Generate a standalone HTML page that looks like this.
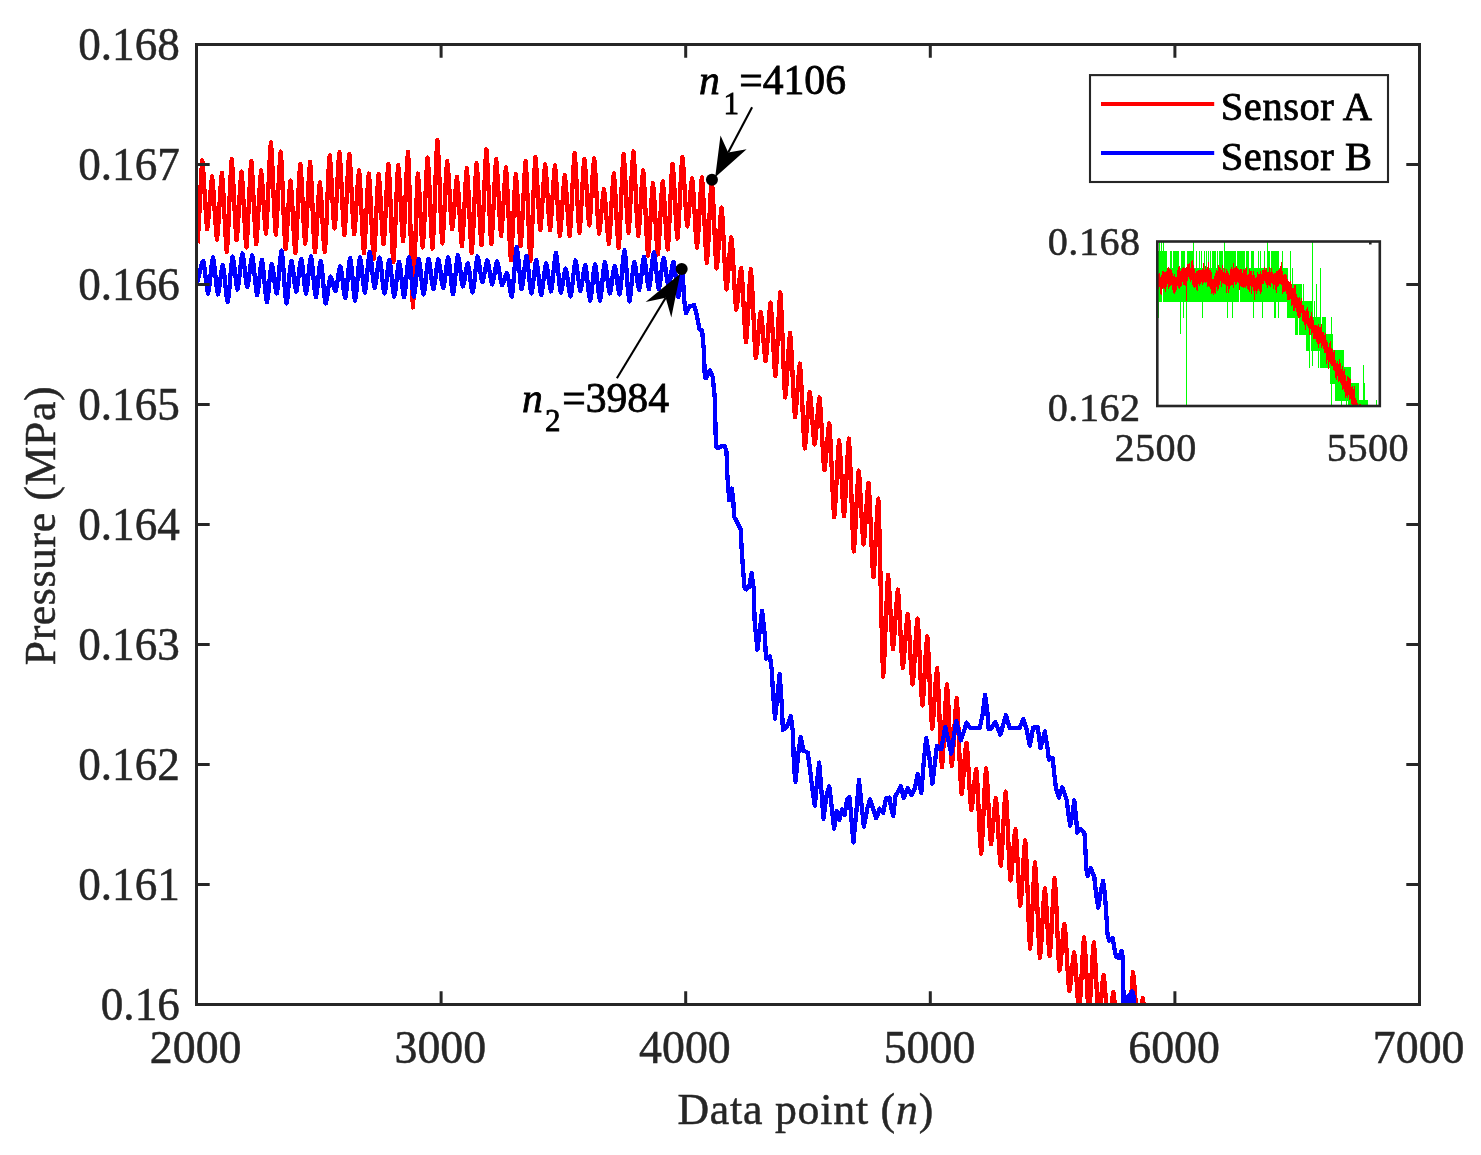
<!DOCTYPE html><html><head><meta charset="utf-8"><title>Pressure vs data point</title>
<style>html,body{margin:0;padding:0;background:#fff}svg{display:block}text{font-family:"Liberation Serif","Times New Roman",serif}</style></head><body>
<svg width="1481" height="1155" viewBox="0 0 1481 1155">
<rect width="1481" height="1155" fill="#fff"/>
<defs><clipPath id="cm"><rect x="196.5" y="44.5" width="1223.0" height="960.0"/></clipPath>
<clipPath id="ci"><rect x="1157.3" y="241.5" width="222.5" height="164.5"/></clipPath></defs>
<g clip-path="url(#cm)" fill="none" stroke-width="4.3" stroke-linejoin="round" stroke-linecap="butt" shape-rendering="crispEdges">
<path stroke="#ff0000" d="M197.4 243.4 L198.2 234.2 L199.0 219.6 L199.9 201.9 L200.7 184.2 L201.5 169.6 L202.3 160.4 L203.1 168.1 L203.9 180.2 L204.7 194.9 L205.6 209.6 L206.4 221.7 L207.2 229.4 L208.0 223.5 L208.8 214.2 L209.6 203.0 L210.5 191.7 L211.3 182.4 L212.1 176.5 L212.9 183.6 L213.7 194.6 L214.5 208.0 L215.4 221.4 L216.2 232.5 L217.0 239.6 L217.8 232.1 L218.6 220.3 L219.4 206.1 L220.3 191.9 L221.1 180.1 L221.9 172.6 L222.7 181.5 L223.5 195.5 L224.3 212.4 L225.2 229.3 L226.0 243.3 L226.8 252.2 L227.6 241.8 L228.4 225.5 L229.2 205.8 L230.1 186.0 L230.9 169.7 L231.7 159.3 L232.5 168.4 L233.3 182.6 L234.1 199.8 L235.0 217.0 L235.8 231.2 L236.6 240.3 L237.4 232.6 L238.2 220.5 L239.0 205.9 L239.9 191.3 L240.7 179.3 L241.5 171.6 L242.3 180.1 L243.1 193.4 L243.9 209.5 L244.8 225.7 L245.6 239.0 L246.4 247.5 L247.2 237.8 L248.0 222.5 L248.8 204.1 L249.7 185.7 L250.5 170.4 L251.3 160.7 L252.1 170.1 L252.9 184.7 L253.7 202.5 L254.6 220.3 L255.4 235.0 L256.2 244.3 L257.0 236.1 L257.8 223.1 L258.6 207.3 L259.4 191.6 L260.3 178.6 L261.1 170.4 L261.9 177.5 L262.7 188.6 L263.5 202.1 L264.3 215.6 L265.2 226.7 L266.0 233.8 L266.8 223.6 L267.6 207.5 L268.4 188.0 L269.2 168.6 L270.1 152.5 L270.9 142.3 L271.7 152.6 L272.5 168.8 L273.3 188.5 L274.1 208.1 L275.0 224.3 L275.8 234.7 L276.6 225.4 L277.4 210.8 L278.2 193.1 L279.0 175.5 L279.9 160.9 L280.7 151.6 L281.5 162.5 L282.3 179.7 L283.1 200.4 L283.9 221.2 L284.8 238.3 L285.6 249.2 L286.4 241.5 L287.2 229.4 L288.0 214.8 L288.8 200.2 L289.7 188.1 L290.5 180.4 L291.3 188.5 L292.1 201.3 L292.9 216.7 L293.7 232.2 L294.6 245.0 L295.4 253.1 L296.2 243.1 L297.0 227.4 L297.8 208.4 L298.6 189.4 L299.5 173.7 L300.3 163.7 L301.1 172.6 L301.9 186.7 L302.7 203.7 L303.5 220.8 L304.4 234.8 L305.2 243.8 L306.0 234.6 L306.8 220.2 L307.6 202.7 L308.4 185.2 L309.3 170.8 L310.1 161.6 L310.9 171.7 L311.7 187.6 L312.5 206.9 L313.3 226.2 L314.1 242.1 L315.0 252.2 L315.8 244.4 L316.6 232.1 L317.4 217.3 L318.2 202.4 L319.0 190.1 L319.9 182.3 L320.7 190.1 L321.5 202.4 L322.3 217.3 L323.1 232.1 L323.9 244.4 L324.8 252.2 L325.6 241.4 L326.4 224.4 L327.2 203.8 L328.0 183.3 L328.8 166.3 L329.7 155.4 L330.5 163.6 L331.3 176.4 L332.1 192.0 L332.9 207.5 L333.7 220.3 L334.6 228.5 L335.4 220.0 L336.2 206.6 L337.0 190.4 L337.8 174.2 L338.6 160.8 L339.5 152.3 L340.3 161.5 L341.1 176.1 L341.9 193.6 L342.7 211.2 L343.5 225.8 L344.4 235.0 L345.2 225.9 L346.0 211.6 L346.8 194.4 L347.6 177.1 L348.4 162.8 L349.3 153.7 L350.1 162.7 L350.9 176.9 L351.7 194.0 L352.5 211.1 L353.3 225.3 L354.2 234.3 L355.0 227.2 L355.8 215.9 L356.6 202.3 L357.4 188.7 L358.2 177.5 L359.1 170.4 L359.9 179.6 L360.7 194.1 L361.5 211.7 L362.3 229.3 L363.1 243.8 L364.0 253.1 L364.8 244.2 L365.6 230.2 L366.4 213.3 L367.2 196.4 L368.0 182.4 L368.8 173.5 L369.7 183.1 L370.5 198.2 L371.3 216.4 L372.1 234.6 L372.9 249.7 L373.7 259.2 L374.6 249.7 L375.4 234.8 L376.2 216.7 L377.0 198.7 L377.8 183.7 L378.6 174.2 L379.5 182.1 L380.3 194.4 L381.1 209.3 L381.9 224.2 L382.7 236.5 L383.5 244.3 L384.4 235.4 L385.2 221.3 L386.0 204.3 L386.8 187.2 L387.6 173.2 L388.4 164.2 L389.3 175.2 L390.1 192.4 L390.9 213.2 L391.7 234.1 L392.5 251.3 L393.3 262.2 L394.2 251.4 L395.0 234.3 L395.8 213.7 L396.6 193.0 L397.4 176.0 L398.2 165.1 L399.1 173.6 L399.9 187.0 L400.7 203.2 L401.5 219.4 L402.3 232.8 L403.1 241.3 L404.0 231.3 L404.8 215.5 L405.6 196.5 L406.4 177.4 L407.2 161.6 L408.0 151.6 L408.9 169.0 L409.7 196.4 L410.5 229.6 L411.3 262.7 L412.1 290.1 L412.9 307.5 L413.8 292.5 L414.6 269.0 L415.4 240.5 L416.2 212.0 L417.0 188.5 L417.8 173.5 L418.7 181.8 L419.5 194.8 L420.3 210.5 L421.1 226.2 L421.9 239.2 L422.7 247.5 L423.5 237.4 L424.4 221.6 L425.2 202.5 L426.0 183.4 L426.8 167.6 L427.6 157.5 L428.4 167.7 L429.3 183.8 L430.1 203.1 L430.9 222.5 L431.7 238.5 L432.5 248.7 L433.3 236.6 L434.2 217.5 L435.0 194.4 L435.8 171.4 L436.6 152.3 L437.4 140.2 L438.2 151.7 L439.1 169.9 L439.9 191.8 L440.7 213.8 L441.5 231.9 L442.3 243.4 L443.1 234.2 L444.0 219.8 L444.8 202.3 L445.6 184.7 L446.4 170.3 L447.2 161.1 L448.0 168.7 L448.9 180.7 L449.7 195.2 L450.5 209.8 L451.3 221.8 L452.1 229.4 L452.9 223.5 L453.8 214.3 L454.6 203.2 L455.4 192.1 L456.2 182.9 L457.0 177.0 L457.8 184.8 L458.7 196.9 L459.5 211.6 L460.3 226.2 L461.1 238.4 L461.9 246.1 L462.7 237.4 L463.6 223.7 L464.4 207.1 L465.2 190.5 L466.0 176.8 L466.8 168.1 L467.6 177.6 L468.5 192.5 L469.3 210.6 L470.1 228.7 L470.9 243.6 L471.7 253.1 L472.5 243.1 L473.4 227.3 L474.2 208.2 L475.0 189.1 L475.8 173.4 L476.6 163.3 L477.4 172.5 L478.2 186.9 L479.1 204.3 L479.9 221.7 L480.7 236.0 L481.5 245.2 L482.3 234.5 L483.1 217.6 L484.0 197.2 L484.8 176.9 L485.6 160.0 L486.4 149.3 L487.2 159.9 L488.0 176.6 L488.9 196.8 L489.7 217.0 L490.5 233.7 L491.3 244.3 L492.1 234.8 L492.9 219.8 L493.8 201.6 L494.6 183.5 L495.4 168.5 L496.2 158.9 L497.0 167.6 L497.8 181.1 L498.7 197.4 L499.5 213.8 L500.3 227.3 L501.1 235.9 L501.9 228.2 L502.7 216.2 L503.6 201.6 L504.4 187.1 L505.2 175.0 L506.0 167.4 L506.8 177.7 L507.6 194.0 L508.5 213.8 L509.3 233.5 L510.1 249.8 L510.9 260.1 L511.7 250.5 L512.5 235.4 L513.4 217.2 L514.2 198.9 L515.0 183.8 L515.8 174.2 L516.6 182.3 L517.4 194.9 L518.3 210.2 L519.1 225.4 L519.9 238.0 L520.7 246.1 L521.5 236.6 L522.3 221.6 L523.2 203.6 L524.0 185.5 L524.8 170.6 L525.6 161.1 L526.4 172.2 L527.2 189.8 L528.1 211.0 L528.9 232.3 L529.7 249.8 L530.5 261.0 L531.3 249.4 L532.1 231.2 L532.9 209.1 L533.8 187.0 L534.6 168.8 L535.4 157.2 L536.2 165.4 L537.0 178.2 L537.8 193.7 L538.7 209.3 L539.5 222.1 L540.3 230.3 L541.1 222.9 L541.9 211.3 L542.7 197.2 L543.6 183.2 L544.4 171.6 L545.2 164.2 L546.0 171.6 L546.8 183.2 L547.6 197.2 L548.5 211.3 L549.3 222.9 L550.1 230.3 L550.9 223.0 L551.7 211.6 L552.5 197.9 L553.4 184.1 L554.2 172.7 L555.0 165.4 L555.8 173.3 L556.6 185.7 L557.4 200.7 L558.3 215.6 L559.1 228.0 L559.9 235.9 L560.7 229.1 L561.5 218.4 L562.3 205.5 L563.2 192.6 L564.0 181.9 L564.8 175.1 L565.6 181.9 L566.4 192.6 L567.2 205.5 L568.1 218.4 L568.9 229.1 L569.7 235.9 L570.5 226.6 L571.3 212.1 L572.1 194.5 L573.0 176.9 L573.8 162.4 L574.6 153.2 L575.4 162.1 L576.2 176.1 L577.0 193.0 L577.9 210.0 L578.7 224.0 L579.5 232.9 L580.3 224.6 L581.1 211.6 L581.9 195.9 L582.8 180.2 L583.6 167.2 L584.4 158.9 L585.2 166.4 L586.0 178.0 L586.8 192.2 L587.6 206.3 L588.5 217.9 L589.3 225.4 L590.1 217.9 L590.9 206.1 L591.7 191.9 L592.5 177.7 L593.4 165.9 L594.2 158.4 L595.0 166.9 L595.8 180.1 L596.6 196.1 L597.4 212.1 L598.3 225.4 L599.1 233.8 L599.9 228.8 L600.7 221.0 L601.5 211.5 L602.3 202.0 L603.2 194.1 L604.0 189.1 L604.8 195.3 L605.6 204.9 L606.4 216.6 L607.2 228.2 L608.1 237.8 L608.9 244.0 L609.7 236.1 L610.5 223.7 L611.3 208.7 L612.1 193.6 L613.0 181.2 L613.8 173.3 L614.6 181.7 L615.4 194.9 L616.2 210.8 L617.0 226.7 L617.9 239.8 L618.7 248.2 L619.5 237.7 L620.3 221.2 L621.1 201.2 L621.9 181.2 L622.8 164.7 L623.6 154.2 L624.4 163.0 L625.2 176.8 L626.0 193.6 L626.8 210.3 L627.7 224.1 L628.5 232.9 L629.3 223.8 L630.1 209.5 L630.9 192.2 L631.7 174.8 L632.6 160.5 L633.4 151.4 L634.2 160.8 L635.0 175.7 L635.8 193.6 L636.6 211.6 L637.5 226.4 L638.3 235.9 L639.1 228.6 L639.9 217.1 L640.7 203.1 L641.5 189.2 L642.3 177.7 L643.2 170.4 L644.0 179.9 L644.8 194.9 L645.6 213.0 L646.4 231.2 L647.2 246.2 L648.1 255.7 L648.9 247.6 L649.7 234.9 L650.5 219.5 L651.3 204.0 L652.1 191.3 L653.0 183.2 L653.8 191.2 L654.6 203.7 L655.4 218.8 L656.2 234.0 L657.0 246.5 L657.9 254.5 L658.7 246.3 L659.5 233.5 L660.3 218.0 L661.1 202.4 L661.9 189.6 L662.8 181.4 L663.6 189.0 L664.4 201.0 L665.2 215.5 L666.0 230.0 L666.8 242.0 L667.7 249.6 L668.5 240.0 L669.3 224.9 L670.1 206.6 L670.9 188.4 L671.7 173.3 L672.6 163.7 L673.4 172.1 L674.2 185.3 L675.0 201.2 L675.8 217.1 L676.6 230.3 L677.5 238.7 L678.3 229.6 L679.1 215.3 L679.9 197.9 L680.7 180.6 L681.5 166.3 L682.4 157.2 L683.2 164.9 L684.0 177.1 L684.8 191.8 L685.6 206.5 L686.4 218.7 L687.3 226.4 L688.1 221.0 L688.9 212.6 L689.7 202.3 L690.5 192.1 L691.3 183.6 L692.2 178.3 L693.0 186.0 L693.8 198.2 L694.6 212.9 L695.4 227.6 L696.2 239.7 L697.0 247.5 L697.9 239.6 L698.7 227.3 L699.5 212.4 L700.3 197.5 L701.1 185.2 L701.9 177.4 L702.8 186.9 L703.6 201.9 L704.4 220.1 L705.2 238.2 L706.0 253.2 L706.8 262.8 L707.7 253.5 L708.5 238.9 L709.3 221.2 L710.1 203.6 L710.9 189.0 L711.7 179.7 L712.6 189.6 L713.4 205.2 L714.2 224.1 L715.0 243.0 L715.8 258.6 L716.6 268.6 L717.5 261.7 L718.3 251.0 L719.1 238.1 L719.9 225.1 L720.7 214.4 L721.5 207.6 L722.4 216.8 L723.2 231.2 L724.0 248.6 L724.8 266.0 L725.6 280.4 L726.4 289.6 L727.3 283.8 L728.1 274.6 L728.9 263.5 L729.7 252.4 L730.5 243.3 L731.3 237.4 L732.2 245.5 L733.0 258.2 L733.8 273.5 L734.6 288.9 L735.4 301.6 L736.2 309.6 L737.1 305.0 L737.9 297.7 L738.7 288.9 L739.5 280.1 L740.3 272.8 L741.1 268.1 L742.0 276.4 L742.8 289.5 L743.6 305.3 L744.4 321.0 L745.2 334.1 L746.0 342.4 L746.8 334.2 L747.7 321.3 L748.5 305.8 L749.3 290.2 L750.1 277.4 L750.9 269.2 L751.7 279.2 L752.6 294.8 L753.4 313.7 L754.2 332.6 L755.0 348.2 L755.8 358.2 L756.6 353.0 L757.5 344.8 L758.3 334.9 L759.1 325.1 L759.9 316.9 L760.7 311.7 L761.5 317.2 L762.4 325.9 L763.2 336.4 L764.0 346.9 L764.8 355.6 L765.6 361.2 L766.4 354.6 L767.3 344.3 L768.1 331.9 L768.9 319.4 L769.7 309.1 L770.5 302.6 L771.3 310.8 L772.2 323.7 L773.0 339.3 L773.8 354.9 L774.6 367.9 L775.4 376.1 L776.2 366.7 L777.1 352.0 L777.9 334.2 L778.7 316.4 L779.5 301.7 L780.3 292.4 L781.1 304.1 L782.0 322.6 L782.8 344.9 L783.6 367.3 L784.4 385.7 L785.2 397.5 L786.0 390.3 L786.9 378.9 L787.7 365.2 L788.5 351.4 L789.3 340.1 L790.1 332.8 L790.9 342.3 L791.8 357.1 L792.6 375.1 L793.4 393.0 L794.2 407.9 L795.0 417.3 L795.8 411.3 L796.7 401.9 L797.5 390.4 L798.3 379.0 L799.1 369.6 L799.9 363.6 L800.7 373.1 L801.5 388.0 L802.4 406.0 L803.2 424.1 L804.0 439.0 L804.8 448.5 L805.6 442.1 L806.4 432.1 L807.3 420.1 L808.1 408.0 L808.9 398.0 L809.7 391.7 L810.5 397.6 L811.3 406.8 L812.2 418.0 L813.0 429.3 L813.8 438.5 L814.6 444.4 L815.4 439.2 L816.2 430.9 L817.1 420.9 L817.9 411.0 L818.7 402.7 L819.5 397.4 L820.3 405.6 L821.1 418.4 L822.0 433.8 L822.8 449.3 L823.6 462.1 L824.4 470.3 L825.2 465.0 L826.0 456.7 L826.9 446.8 L827.7 436.8 L828.5 428.5 L829.3 423.3 L830.1 433.8 L830.9 450.3 L831.8 470.3 L832.6 490.3 L833.4 506.8 L834.2 517.3 L835.0 508.7 L835.8 495.2 L836.7 478.8 L837.5 462.4 L838.3 448.9 L839.1 440.3 L839.9 448.8 L840.7 462.2 L841.6 478.4 L842.4 494.5 L843.2 507.9 L844.0 516.4 L844.8 507.7 L845.6 494.0 L846.5 477.5 L847.3 460.9 L848.1 447.2 L848.9 438.5 L849.7 451.2 L850.5 471.0 L851.4 495.0 L852.2 519.0 L853.0 538.9 L853.8 551.5 L854.6 542.5 L855.4 528.3 L856.2 511.0 L857.1 493.8 L857.9 479.6 L858.7 470.5 L859.5 478.8 L860.3 491.8 L861.1 507.5 L862.0 523.2 L862.8 536.2 L863.6 544.5 L864.4 537.6 L865.2 526.8 L866.0 513.7 L866.9 500.6 L867.7 489.7 L868.5 482.8 L869.3 493.4 L870.1 510.0 L870.9 530.1 L871.8 550.2 L872.6 566.8 L873.4 577.3 L874.2 568.5 L875.0 554.7 L875.8 538.0 L876.7 521.3 L877.5 507.4 L878.3 498.6 L879.1 518.5 L879.9 549.8 L880.7 587.6 L881.6 625.4 L882.4 656.7 L883.2 676.6 L884.0 665.3 L884.8 647.4 L885.6 625.8 L886.5 604.3 L887.3 586.4 L888.1 575.1 L888.9 583.4 L889.7 596.5 L890.5 612.2 L891.4 628.0 L892.2 641.1 L893.0 649.4 L893.8 642.7 L894.6 632.2 L895.4 619.4 L896.3 606.7 L897.1 596.2 L897.9 589.5 L898.7 598.2 L899.5 612.0 L900.3 628.7 L901.2 645.3 L902.0 659.1 L902.8 667.8 L903.6 661.8 L904.4 652.3 L905.2 640.8 L906.1 629.3 L906.9 619.8 L907.7 613.7 L908.5 621.6 L909.3 634.1 L910.1 649.1 L910.9 664.2 L911.8 676.6 L912.6 684.5 L913.4 677.1 L914.2 665.5 L915.0 651.5 L915.8 637.4 L916.7 625.8 L917.5 618.4 L918.3 628.2 L919.1 643.5 L919.9 662.0 L920.7 680.5 L921.6 695.8 L922.4 705.6 L923.2 697.8 L924.0 685.7 L924.8 671.0 L925.6 656.3 L926.5 644.1 L927.3 636.4 L928.1 646.7 L928.9 662.9 L929.7 682.6 L930.5 702.2 L931.4 718.4 L932.2 728.8 L933.0 722.0 L933.8 711.3 L934.6 698.4 L935.4 685.6 L936.3 674.9 L937.1 668.1 L937.9 679.2 L938.7 696.6 L939.5 717.6 L940.3 738.7 L941.2 756.0 L942.0 767.1 L942.8 757.9 L943.6 743.3 L944.4 725.7 L945.2 708.1 L946.1 693.5 L946.9 684.3 L947.7 693.4 L948.5 707.7 L949.3 725.1 L950.1 742.4 L951.0 756.8 L951.8 765.9 L952.6 758.3 L953.4 746.5 L954.2 732.1 L955.0 717.8 L955.9 705.9 L956.7 698.3 L957.5 709.0 L958.3 725.8 L959.1 746.2 L959.9 766.5 L960.8 783.3 L961.6 794.0 L962.4 788.3 L963.2 779.3 L964.0 768.4 L964.8 757.5 L965.6 748.6 L966.5 742.8 L967.3 750.3 L968.1 762.1 L968.9 776.3 L969.7 790.5 L970.5 802.3 L971.4 809.8 L972.2 805.2 L973.0 798.1 L973.8 789.5 L974.6 780.8 L975.4 773.7 L976.3 769.2 L977.1 778.6 L977.9 793.5 L978.7 811.4 L979.5 829.4 L980.3 844.2 L981.2 853.7 L982.0 844.1 L982.8 829.1 L983.6 811.0 L984.4 792.8 L985.2 777.8 L986.1 768.3 L986.9 776.8 L987.7 790.1 L988.5 806.2 L989.3 822.2 L990.1 835.5 L991.0 844.0 L991.8 838.9 L992.6 830.8 L993.4 821.1 L994.2 811.3 L995.0 803.3 L995.9 798.1 L996.7 805.7 L997.5 817.6 L998.3 831.9 L999.1 846.3 L999.9 858.1 L1000.8 865.7 L1001.6 857.4 L1002.4 844.4 L1003.2 828.7 L1004.0 812.9 L1004.8 799.9 L1005.7 791.6 L1006.5 801.6 L1007.3 817.2 L1008.1 836.1 L1008.9 855.0 L1009.7 870.6 L1010.6 880.6 L1011.4 874.8 L1012.2 865.8 L1013.0 854.9 L1013.8 844.0 L1014.6 835.0 L1015.5 829.2 L1016.3 837.8 L1017.1 851.2 L1017.9 867.5 L1018.7 883.7 L1019.5 897.1 L1020.3 905.7 L1021.2 898.4 L1022.0 886.9 L1022.8 873.0 L1023.6 859.1 L1024.4 847.6 L1025.2 840.3 L1026.1 852.4 L1026.9 871.5 L1027.7 894.5 L1028.5 917.5 L1029.3 936.6 L1030.1 948.7 L1031.0 939.1 L1031.8 923.9 L1032.6 905.6 L1033.4 887.3 L1034.2 872.1 L1035.0 862.5 L1035.9 873.1 L1036.7 889.9 L1037.5 910.2 L1038.3 930.4 L1039.1 947.2 L1039.9 957.8 L1040.8 950.1 L1041.6 937.9 L1042.4 923.1 L1043.2 908.4 L1044.0 896.2 L1044.8 888.4 L1045.7 896.0 L1046.5 907.8 L1047.3 922.1 L1048.1 936.4 L1048.9 948.2 L1049.7 955.7 L1050.6 947.1 L1051.4 933.5 L1052.2 917.0 L1053.0 900.5 L1053.8 886.9 L1054.6 878.3 L1055.5 888.6 L1056.3 904.8 L1057.1 924.5 L1057.9 944.1 L1058.7 960.3 L1059.5 970.7 L1060.4 965.4 L1061.2 957.2 L1062.0 947.3 L1062.8 937.3 L1063.6 929.1 L1064.4 923.9 L1065.3 931.4 L1066.1 943.2 L1066.9 957.4 L1067.7 971.6 L1068.5 983.4 L1069.3 990.8 L1070.2 986.5 L1071.0 979.8 L1071.8 971.6 L1072.6 963.4 L1073.4 956.7 L1074.2 952.3 L1075.0 959.1 L1075.9 969.7 L1076.7 982.6 L1077.5 995.4 L1078.3 1006.0 L1079.1 1012.8 L1079.9 1004.4 L1080.8 991.1 L1081.6 975.1 L1082.4 959.1 L1083.2 945.9 L1084.0 937.4 L1084.8 946.1 L1085.7 959.6 L1086.5 976.0 L1087.3 992.4 L1088.1 1005.9 L1088.9 1014.5 L1089.7 1006.5 L1090.6 993.8 L1091.4 978.4 L1092.2 963.1 L1093.0 950.4 L1093.8 942.3 L1094.6 951.0 L1095.5 964.6 L1096.3 981.1 L1097.1 997.5 L1097.9 1011.2 L1098.7 1019.8 L1099.5 1014.8 L1100.4 1007.0 L1101.2 997.5 L1102.0 988.0 L1102.8 980.2 L1103.6 975.2 L1104.4 981.7 L1105.3 992.0 L1106.1 1004.5 L1106.9 1017.0 L1107.7 1027.3 L1108.5 1033.9 L1109.3 1029.2 L1110.2 1021.8 L1111.0 1012.9 L1111.8 1004.1 L1112.6 996.7 L1113.4 992.0 L1114.2 998.1 L1115.1 1007.6 L1115.9 1019.1 L1116.7 1030.6 L1117.5 1040.1 L1118.3 1046.2 L1119.1 1042.5 L1120.0 1036.7 L1120.8 1029.8 L1121.6 1022.8 L1122.4 1017.1 L1123.2 1013.4 L1124.0 1017.7 L1124.9 1024.4 L1125.7 1032.4 L1126.5 1040.5 L1127.3 1047.2 L1128.1 1051.4 L1128.9 1042.6 L1129.7 1028.6 L1130.6 1011.8 L1131.4 995.0 L1132.2 981.0 L1133.0 972.2 L1133.8 978.5 L1134.6 988.4 L1135.5 1000.4 L1136.3 1012.4 L1137.1 1022.3 L1137.9 1028.6 L1138.7 1025.2 L1139.5 1019.8 L1140.4 1013.4 L1141.2 1006.9 L1142.0 1001.6 L1142.8 998.2 L1143.6 1003.5 L1144.4 1012.0 L1145.3 1022.2 L1146.1 1032.4 L1146.9 1040.8 L1147.7 1046.2 L1148.5 1044.7 L1149.3 1042.3 L1150.2 1039.5 L1151.0 1036.6 L1151.8 1034.3 L1152.6 1032.8"/>
<path stroke="#0000ff" d="M196.5 283.3 L197.6 280.9 L198.7 276.9 L199.8 272.0 L201.0 267.1 L202.1 263.2 L203.2 260.8 L204.0 264.3 L204.8 270.0 L205.6 277.1 L206.5 284.2 L207.3 290.0 L208.1 293.5 L208.9 289.6 L209.7 283.2 L210.5 275.4 L211.4 267.5 L212.2 261.1 L213.0 257.3 L213.8 261.2 L214.6 267.8 L215.4 275.8 L216.3 283.8 L217.1 290.4 L217.9 294.4 L218.7 291.2 L219.5 286.1 L220.3 279.8 L221.2 273.4 L222.0 268.3 L222.8 265.2 L223.6 269.1 L224.4 275.7 L225.2 283.7 L226.1 291.7 L226.9 298.3 L227.7 302.3 L228.5 297.4 L229.3 289.3 L230.1 279.3 L231.0 269.4 L231.8 261.3 L232.6 256.4 L233.4 259.9 L234.2 265.8 L235.0 273.0 L235.9 280.2 L236.7 286.1 L237.5 289.6 L238.3 285.7 L239.1 279.4 L239.9 271.5 L240.8 263.7 L241.6 257.3 L242.4 253.4 L243.2 257.0 L244.0 263.0 L244.8 270.4 L245.7 277.7 L246.5 283.7 L247.3 287.3 L248.1 283.9 L248.9 278.3 L249.7 271.4 L250.6 264.5 L251.4 258.9 L252.2 255.5 L253.0 259.8 L253.8 266.8 L254.6 275.4 L255.5 284.0 L256.3 291.0 L257.1 295.2 L257.9 291.5 L258.7 285.2 L259.5 277.6 L260.3 269.9 L261.2 263.7 L262.0 259.9 L262.8 264.4 L263.6 271.9 L264.4 281.1 L265.2 290.3 L266.1 297.7 L266.9 302.3 L267.7 298.2 L268.5 291.4 L269.3 283.1 L270.1 274.8 L271.0 268.0 L271.8 263.9 L272.6 267.1 L273.4 272.3 L274.2 278.7 L275.0 285.1 L275.9 290.3 L276.7 293.5 L277.5 288.9 L278.3 281.3 L279.1 272.0 L279.9 262.7 L280.8 255.2 L281.6 250.6 L282.4 256.2 L283.2 265.6 L284.0 277.0 L284.8 288.5 L285.7 297.8 L286.5 303.5 L287.3 298.9 L288.1 291.4 L288.9 282.1 L289.7 272.9 L290.6 265.3 L291.4 260.8 L292.2 264.1 L293.0 269.5 L293.8 276.2 L294.6 283.0 L295.5 288.4 L296.3 291.7 L297.1 288.2 L297.9 282.5 L298.7 275.4 L299.5 268.3 L300.4 262.5 L301.2 259.0 L302.0 262.7 L302.8 268.8 L303.6 276.2 L304.4 283.7 L305.3 289.8 L306.1 293.5 L306.9 289.5 L307.7 283.0 L308.5 274.9 L309.3 266.9 L310.2 260.3 L311.0 256.4 L311.8 260.8 L312.6 268.0 L313.4 276.9 L314.2 285.7 L315.0 293.0 L315.9 297.3 L316.7 293.4 L317.5 287.0 L318.3 279.1 L319.1 271.1 L319.9 264.7 L320.8 260.8 L321.6 265.3 L322.4 272.9 L323.2 282.1 L324.0 291.4 L324.8 298.9 L325.7 303.5 L326.5 300.6 L327.3 295.9 L328.1 290.0 L328.9 284.2 L329.7 279.5 L330.6 276.6 L331.4 278.1 L332.2 280.6 L333.0 283.7 L333.8 286.8 L334.6 289.3 L335.5 290.8 L336.3 288.2 L337.1 283.9 L337.9 278.6 L338.7 273.3 L339.5 269.0 L340.4 266.4 L341.2 269.8 L342.0 275.3 L342.8 282.1 L343.6 289.0 L344.4 294.5 L345.3 297.9 L346.1 293.6 L346.9 286.6 L347.7 278.0 L348.5 269.4 L349.3 262.4 L350.2 258.1 L351.0 262.7 L351.8 270.1 L352.6 279.3 L353.4 288.5 L354.2 296.0 L355.1 300.5 L355.9 295.9 L356.7 288.3 L357.5 278.9 L358.3 269.5 L359.1 261.9 L360.0 257.3 L360.8 261.0 L361.6 267.3 L362.4 274.9 L363.2 282.6 L364.0 288.8 L364.9 292.6 L365.7 288.3 L366.5 281.2 L367.3 272.5 L368.1 263.8 L368.9 256.6 L369.7 252.3 L370.6 256.1 L371.4 262.4 L372.2 270.1 L373.0 277.8 L373.8 284.1 L374.6 287.9 L375.5 284.6 L376.3 279.3 L377.1 272.7 L377.9 266.2 L378.7 260.8 L379.5 257.6 L380.4 261.4 L381.2 267.8 L382.0 275.5 L382.8 283.3 L383.6 289.6 L384.4 293.5 L385.3 289.9 L386.1 284.0 L386.9 276.7 L387.7 269.4 L388.5 263.5 L389.3 259.9 L390.2 263.8 L391.0 270.3 L391.8 278.2 L392.6 286.1 L393.4 292.6 L394.2 296.5 L395.1 292.7 L395.9 286.6 L396.7 279.1 L397.5 271.5 L398.3 265.4 L399.1 261.7 L400.0 265.5 L400.8 271.8 L401.6 279.5 L402.4 287.2 L403.2 293.5 L404.0 297.3 L404.9 293.1 L405.7 286.0 L406.5 277.3 L407.3 268.6 L408.1 261.5 L408.9 257.3 L409.8 261.5 L410.6 268.4 L411.4 277.0 L412.2 285.5 L413.0 292.4 L413.8 296.6 L414.7 292.6 L415.5 286.0 L416.3 277.8 L417.1 269.7 L417.9 263.0 L418.7 259.0 L419.6 262.8 L420.4 269.0 L421.2 276.7 L422.0 284.3 L422.8 290.6 L423.6 294.4 L424.4 290.5 L425.3 284.2 L426.1 276.5 L426.9 268.8 L427.7 262.5 L428.5 258.7 L429.3 261.9 L430.2 267.3 L431.0 273.9 L431.8 280.5 L432.6 285.8 L433.4 289.1 L434.2 285.9 L435.1 280.7 L435.9 274.3 L436.7 267.9 L437.5 262.7 L438.3 259.5 L439.1 262.6 L440.0 267.7 L440.8 273.9 L441.6 280.1 L442.4 285.2 L443.2 288.2 L444.0 284.9 L444.9 279.4 L445.7 272.7 L446.5 266.0 L447.3 260.6 L448.1 257.3 L448.9 261.2 L449.8 267.8 L450.6 275.8 L451.4 283.8 L452.2 290.4 L453.0 294.4 L453.8 290.2 L454.7 283.3 L455.5 274.8 L456.3 266.3 L457.1 259.3 L457.9 255.2 L458.7 258.5 L459.6 264.0 L460.4 270.8 L461.2 277.6 L462.0 283.1 L462.8 286.5 L463.6 284.0 L464.5 279.9 L465.3 274.9 L466.1 269.9 L466.9 265.9 L467.7 263.4 L468.5 266.5 L469.4 271.7 L470.2 278.0 L471.0 284.3 L471.8 289.5 L472.6 292.6 L473.4 288.7 L474.3 282.3 L475.1 274.5 L475.9 266.6 L476.7 260.3 L477.5 256.4 L478.3 259.1 L479.1 263.7 L480.0 269.2 L480.8 274.8 L481.6 279.3 L482.4 282.1 L483.2 279.8 L484.0 275.9 L484.9 271.2 L485.7 266.6 L486.5 262.7 L487.3 260.4 L488.1 263.0 L488.9 267.2 L489.8 272.4 L490.6 277.6 L491.4 281.8 L492.2 284.4 L493.0 281.9 L493.8 277.8 L494.7 272.8 L495.5 267.8 L496.3 263.8 L497.1 261.3 L497.9 263.8 L498.7 268.0 L499.6 273.2 L500.4 278.3 L501.2 282.5 L502.0 285.1 L502.8 283.8 L503.6 281.7 L504.5 279.1 L505.3 276.5 L506.1 274.3 L506.9 273.1 L507.7 275.6 L508.5 279.7 L509.4 284.9 L510.2 290.0 L511.0 294.1 L511.8 296.6 L512.6 291.3 L513.4 282.6 L514.3 271.9 L515.1 261.1 L515.9 252.4 L516.7 247.1 L517.5 251.6 L518.3 259.0 L519.2 268.1 L520.0 277.2 L520.8 284.6 L521.6 289.1 L522.4 285.6 L523.2 279.7 L524.1 272.6 L524.9 265.4 L525.7 259.6 L526.5 256.0 L527.3 260.0 L528.1 266.6 L529.0 274.8 L529.8 282.9 L530.6 289.5 L531.4 293.5 L532.2 289.9 L533.0 284.0 L533.8 276.7 L534.7 269.4 L535.5 263.5 L536.3 259.9 L537.1 263.7 L537.9 269.9 L538.7 277.6 L539.6 285.2 L540.4 291.5 L541.2 295.2 L542.0 291.8 L542.8 286.2 L543.6 279.3 L544.5 272.4 L545.3 266.8 L546.1 263.4 L546.9 266.4 L547.7 271.3 L548.5 277.4 L549.4 283.5 L550.2 288.4 L551.0 291.4 L551.8 287.3 L552.6 280.5 L553.4 272.1 L554.3 263.8 L555.1 257.0 L555.9 252.9 L556.7 257.1 L557.5 264.1 L558.3 272.7 L559.2 281.3 L560.0 288.4 L560.8 292.6 L561.6 290.0 L562.4 285.8 L563.2 280.6 L564.1 275.5 L564.9 271.2 L565.7 268.7 L566.5 271.7 L567.3 276.6 L568.1 282.7 L569.0 288.7 L569.8 293.7 L570.6 296.6 L571.4 292.8 L572.2 286.4 L573.0 278.5 L573.9 270.7 L574.7 264.3 L575.5 260.4 L576.3 263.7 L577.1 269.0 L577.9 275.6 L578.8 282.2 L579.6 287.6 L580.4 290.8 L581.2 288.1 L582.0 283.6 L582.8 278.0 L583.7 272.4 L584.5 267.9 L585.3 265.2 L586.1 268.9 L586.9 275.2 L587.7 282.8 L588.5 290.5 L589.4 296.7 L590.2 300.5 L591.0 296.6 L591.8 290.2 L592.6 282.4 L593.4 274.5 L594.3 268.2 L595.1 264.3 L595.9 268.2 L596.7 274.5 L597.5 282.4 L598.3 290.2 L599.2 296.6 L600.0 300.5 L600.8 296.4 L601.6 289.6 L602.4 281.3 L603.2 272.9 L604.1 266.1 L604.9 262.0 L605.7 265.4 L606.5 270.9 L607.3 277.7 L608.1 284.6 L609.0 290.1 L609.8 293.5 L610.6 290.5 L611.4 285.7 L612.2 279.8 L613.0 273.8 L613.9 269.0 L614.7 266.0 L615.5 269.1 L616.3 274.1 L617.1 280.2 L617.9 286.3 L618.8 291.3 L619.6 294.4 L620.4 289.6 L621.2 281.9 L622.0 272.3 L622.8 262.7 L623.7 255.0 L624.5 250.2 L625.3 255.7 L626.1 264.7 L626.9 275.8 L627.7 286.9 L628.6 295.9 L629.4 301.4 L630.2 297.2 L631.0 290.2 L631.8 281.7 L632.6 273.2 L633.5 266.2 L634.3 262.0 L635.1 265.0 L635.9 269.9 L636.7 276.0 L637.5 282.0 L638.4 287.0 L639.2 290.0 L640.0 286.4 L640.8 280.6 L641.6 273.4 L642.4 266.3 L643.2 260.4 L644.1 256.9 L644.9 260.4 L645.7 266.0 L646.5 273.0 L647.3 280.0 L648.1 285.7 L649.0 289.1 L649.8 285.2 L650.6 278.7 L651.4 270.7 L652.2 262.8 L653.0 256.3 L653.9 252.3 L654.7 256.3 L655.5 262.8 L656.3 270.7 L657.1 278.7 L657.9 285.2 L658.8 289.1 L659.6 285.8 L660.4 280.3 L661.2 273.6 L662.0 266.9 L662.8 261.4 L663.7 258.1 L664.5 261.2 L665.3 266.2 L666.1 272.3 L666.9 278.4 L667.7 283.4 L668.6 286.5 L669.4 283.8 L670.2 279.5 L671.0 274.2 L671.8 268.9 L672.6 264.6 L673.5 262.0 L674.3 265.7 L675.1 271.9 L675.9 279.5 L676.7 287.1 L677.5 293.3 L678.4 297.0 L678.9 294.0 L679.5 289.1 L680.1 283.1 L680.7 277.1 L681.3 272.2 L681.9 269.2 L683.0 276.9 L683.9 297.9 L686.0 313.4 L689.8 306.0 L694.2 305.3 L696.9 315.5 L699.5 329.2 L702.1 330.4 L703.9 350.6 L704.8 376.9 L706.0 378.3 L710.0 370.3 L712.7 376.9 L714.8 398.0 L715.8 440.0 L716.0 446.3 L717.7 448.1 L721.3 446.3 L724.8 446.0 L726.5 451.6 L727.4 476.2 L729.2 500.4 L731.8 488.5 L733.2 499.0 L734.1 516.6 L737.9 523.6 L740.6 528.8 L741.8 551.7 L743.2 571.0 L744.6 587.7 L746.4 589.4 L749.3 586.8 L751.6 573.1 L753.7 588.5 L754.6 620.0 L755.1 626.3 L757.4 649.7 L762.1 610.9 L764.8 635.1 L766.0 658.8 L770.0 656.5 L771.8 670.2 L772.7 687.8 L775.0 718.7 L779.7 674.1 L781.8 705.3 L782.9 729.9 L786.7 727.3 L790.8 716.2 L792.9 731.7 L793.7 758.0 L793.7 763.9 L795.5 781.8 L798.1 755.1 L800.7 737.0 L803.4 750.7 L807.7 752.5 L809.5 765.6 L812.1 786.7 L814.8 805.7 L817.1 781.4 L819.2 762.5 L821.4 790.2 L823.5 818.8 L826.5 795.5 L829.3 786.2 L831.4 804.3 L834.1 828.5 L836.7 811.3 L839.3 820.1 L842.0 809.5 L844.6 814.8 L847.2 799.4 L849.4 797.2 L851.1 814.8 L853.4 842.5 L856.4 811.3 L859.0 780.0 L861.3 802.5 L863.9 826.7 L867.4 807.8 L870.1 799.4 L872.7 807.8 L876.2 818.3 L879.7 808.7 L883.2 813.0 L885.9 798.5 L889.4 797.6 L891.1 807.8 L893.2 816.2 L895.5 795.8 L898.2 791.5 L900.8 786.2 L903.8 797.8 L907.8 787.9 L911.3 795.1 L914.8 788.5 L917.8 773.9 L921.3 793.0 L923.6 763.9 L926.2 737.9 L929.8 760.4 L932.4 783.7 L936.9 746.0 L941.3 749.2 L945.3 727.1 L951.3 753.6 L956.2 720.9 L960.9 740.4 L966.7 722.7 L970.2 728.1 L979.9 727.6 L982.9 712.7 L985.1 694.6 L987.4 712.7 L988.7 729.0 L991.3 728.5 L995.3 721.8 L1000.4 734.6 L1005.9 715.1 L1009.7 728.1 L1019.4 728.1 L1023.4 719.2 L1026.8 730.2 L1029.9 745.7 L1033.1 727.6 L1037.8 727.2 L1040.4 748.3 L1044.8 731.5 L1047.5 747.8 L1048.9 759.7 L1052.7 757.8 L1054.1 772.4 L1055.9 788.2 L1058.9 797.5 L1062.4 787.3 L1066.8 800.4 L1068.5 814.5 L1070.3 825.6 L1072.9 811.0 L1074.3 800.4 L1076.1 818.0 L1077.3 832.6 L1080.8 828.9 L1084.3 832.9 L1084.6 834.9 L1085.7 855.1 L1086.4 869.2 L1087.6 875.8 L1090.8 867.8 L1094.3 877.1 L1096.1 893.7 L1098.2 907.8 L1101.0 890.2 L1103.1 880.9 L1104.8 893.7 L1106.1 911.3 L1107.5 934.1 L1109.2 940.8 L1112.7 938.0 L1114.1 946.4 L1115.9 956.6 L1118.9 958.3 L1121.5 951.1 L1123.3 960.4 L1123.4 1013.1 L1127.3 1013.1 L1128.2 996.1 L1129.6 1002.6 L1130.6 993.8 L1132.4 991.5 L1133.8 997.3 L1134.9 1013.1"/>
</g>
<g stroke="#262626" stroke-width="3.0" fill="none" stroke-linecap="butt">
<rect x="196.5" y="44.5" width="1223.0" height="960.0"/>
<path d="M441.1 1004.5 v-13.2 M441.1 44.5 v13.2 M685.7 1004.5 v-13.2 M685.7 44.5 v13.2 M930.3 1004.5 v-13.2 M930.3 44.5 v13.2 M1174.9 1004.5 v-13.2 M1174.9 44.5 v13.2 M196.5 164.5 h13.2 M1419.5 164.5 h-13.2 M196.5 284.5 h13.2 M1419.5 284.5 h-13.2 M196.5 404.5 h13.2 M1419.5 404.5 h-13.2 M196.5 524.5 h13.2 M1419.5 524.5 h-13.2 M196.5 644.5 h13.2 M1419.5 644.5 h-13.2 M196.5 764.5 h13.2 M1419.5 764.5 h-13.2 M196.5 884.5 h13.2 M1419.5 884.5 h-13.2"/>
</g>
<g fill="#262626" stroke="#262626" stroke-width="0.5" font-size="45.83">
<text x="195.7" y="1062.7" text-anchor="middle">2000</text>
<text x="440.3" y="1062.7" text-anchor="middle">3000</text>
<text x="684.9" y="1062.7" text-anchor="middle">4000</text>
<text x="929.5" y="1062.7" text-anchor="middle">5000</text>
<text x="1174.1" y="1062.7" text-anchor="middle">6000</text>
<text x="1418.7" y="1062.7" text-anchor="middle">7000</text>
<text x="179.8" y="59.6" text-anchor="end" textLength="101.6" lengthAdjust="spacingAndGlyphs">0.168</text>
<text x="179.8" y="179.6" text-anchor="end" textLength="101.6" lengthAdjust="spacingAndGlyphs">0.167</text>
<text x="179.8" y="299.6" text-anchor="end" textLength="101.6" lengthAdjust="spacingAndGlyphs">0.166</text>
<text x="179.8" y="419.6" text-anchor="end" textLength="101.6" lengthAdjust="spacingAndGlyphs">0.165</text>
<text x="179.8" y="539.6" text-anchor="end" textLength="101.6" lengthAdjust="spacingAndGlyphs">0.164</text>
<text x="179.8" y="659.6" text-anchor="end" textLength="101.6" lengthAdjust="spacingAndGlyphs">0.163</text>
<text x="179.8" y="779.6" text-anchor="end" textLength="101.6" lengthAdjust="spacingAndGlyphs">0.162</text>
<text x="179.8" y="899.6" text-anchor="end" textLength="101.6" lengthAdjust="spacingAndGlyphs">0.161</text>
<text x="179.8" y="1019.6" text-anchor="end" textLength="79.0" lengthAdjust="spacingAndGlyphs">0.16</text>
<text x="805.7" y="1124.2" text-anchor="middle" font-size="43.75" letter-spacing="0.8">Data point (<tspan font-style="italic">n</tspan>)</text>
<text transform="translate(54.5 525.6) rotate(-90)" text-anchor="middle" font-size="43.75" letter-spacing="0.6">Pressure (MPa)</text>
</g>
<rect x="1090" y="75.1" width="298" height="106.9" fill="#fff" stroke="#262626" stroke-width="2.1"/>
<path d="M1101 104 H1214.2" stroke="#ff0000" stroke-width="4"/>
<path d="M1101 153 H1214.2" stroke="#0000ff" stroke-width="4"/>
<g fill="#000" stroke="#000" stroke-width="0.8" font-size="40.5" letter-spacing="0.55"><text x="1220.8" y="119.8">Sensor A</text><text x="1220.8" y="170.1">Sensor B</text></g>
<rect x="1157.3" y="241.5" width="222.5" height="164.5" fill="#fff"/>
<g clip-path="url(#ci)" fill="none" shape-rendering="crispEdges">
<path stroke="#00ff00" stroke-width="1" d="M1157.5 251.4 V301.8 M1158.5 251.4 V318.2 M1159.5 251.4 V301.8 M1160.5 251.4 V301.8 M1161.5 267.9 V301.8 M1162.5 251.4 V285.3 M1163.5 267.9 V301.8 M1164.5 251.4 V301.8 M1165.5 251.4 V301.8 M1166.5 251.4 V301.8 M1167.5 267.9 V301.8 M1168.5 267.9 V301.8 M1169.5 267.9 V301.8 M1170.5 251.4 V301.8 M1171.5 251.4 V301.8 M1172.5 267.9 V301.8 M1173.5 251.4 V301.8 M1174.5 251.4 V301.8 M1175.5 251.4 V301.8 M1176.5 251.4 V301.8 M1177.5 251.4 V301.8 M1178.5 251.4 V301.8 M1179.5 267.9 V301.8 M1180.5 267.9 V285.3 M1181.5 251.4 V301.8 M1182.5 251.4 V301.8 M1183.5 251.4 V318.2 M1184.5 251.4 V301.8 M1185.5 267.9 V301.8 M1186.5 267.9 V301.8 M1187.5 251.4 V301.8 M1188.5 251.4 V301.8 M1189.5 251.4 V301.8 M1190.5 251.4 V301.8 M1191.5 251.4 V301.8 M1192.5 251.4 V301.8 M1193.5 251.4 V301.8 M1194.5 267.9 V301.8 M1195.5 267.9 V301.8 M1196.5 251.4 V301.8 M1197.5 267.9 V301.8 M1198.5 267.9 V301.8 M1199.5 251.4 V301.8 M1200.5 267.9 V301.8 M1201.5 251.4 V301.8 M1202.5 267.9 V318.2 M1203.5 267.9 V301.8 M1204.5 251.4 V301.8 M1205.5 267.9 V301.8 M1206.5 251.4 V301.8 M1207.5 267.9 V301.8 M1208.5 251.4 V301.8 M1209.5 267.9 V301.8 M1210.5 251.4 V301.8 M1211.5 267.9 V301.8 M1212.5 251.4 V301.8 M1213.5 251.4 V301.8 M1214.5 251.4 V301.8 M1215.5 251.4 V301.8 M1216.5 267.9 V301.8 M1217.5 251.4 V301.8 M1218.5 267.9 V301.8 M1219.5 251.4 V301.8 M1220.5 251.4 V301.8 M1221.5 251.4 V301.8 M1222.5 251.4 V301.8 M1223.5 267.9 V301.8 M1224.5 251.4 V301.8 M1225.5 251.4 V301.8 M1226.5 251.4 V301.8 M1227.5 251.4 V318.2 M1228.5 251.4 V301.8 M1229.5 251.4 V301.8 M1230.5 251.4 V301.8 M1231.5 251.4 V301.8 M1232.5 251.4 V318.2 M1233.5 251.4 V301.8 M1234.5 251.4 V301.8 M1235.5 251.4 V301.8 M1236.5 267.9 V301.8 M1237.5 251.4 V301.8 M1238.5 251.4 V301.8 M1239.5 251.4 V285.3 M1240.5 251.4 V301.8 M1241.5 251.4 V301.8 M1242.5 251.4 V301.8 M1243.5 251.4 V301.8 M1244.5 251.4 V301.8 M1245.5 267.9 V301.8 M1246.5 251.4 V301.8 M1247.5 251.4 V301.8 M1248.5 251.4 V301.8 M1249.5 267.9 V301.8 M1250.5 267.9 V301.8 M1251.5 251.4 V301.8 M1252.5 251.4 V301.8 M1253.5 251.4 V318.2 M1254.5 267.9 V301.8 M1255.5 267.9 V301.8 M1256.5 267.9 V301.8 M1257.5 267.9 V301.8 M1258.5 251.4 V301.8 M1259.5 267.9 V301.8 M1260.5 251.4 V301.8 M1261.5 267.9 V301.8 M1262.5 267.9 V318.2 M1263.5 267.9 V301.8 M1264.5 251.4 V301.8 M1265.5 267.9 V301.8 M1266.5 267.9 V301.8 M1267.5 235.0 V301.8 M1268.5 251.4 V301.8 M1269.5 251.4 V301.8 M1270.5 267.9 V301.8 M1271.5 251.4 V301.8 M1272.5 251.4 V301.8 M1273.5 251.4 V301.8 M1274.5 251.4 V318.2 M1275.5 251.4 V318.2 M1276.5 251.4 V301.8 M1277.5 251.4 V301.8 M1278.5 251.4 V318.2 M1279.5 267.9 V301.8 M1280.5 267.9 V301.8 M1281.5 267.9 V301.8 M1282.5 251.4 V301.8 M1283.5 267.9 V301.8 M1284.5 267.9 V301.8 M1285.5 267.9 V301.8 M1286.5 267.9 V301.8 M1287.5 267.9 V318.2 M1288.5 284.3 V318.2 M1289.5 284.3 V318.2 M1290.5 251.4 V318.2 M1291.5 284.3 V318.2 M1292.5 267.9 V318.2 M1293.5 284.3 V318.2 M1294.5 284.3 V318.2 M1295.5 284.3 V334.7 M1296.5 284.3 V334.7 M1297.5 284.3 V334.7 M1298.5 284.3 V318.2 M1299.5 284.3 V334.7 M1300.5 284.3 V334.7 M1301.5 284.3 V334.7 M1302.5 300.8 V334.7 M1303.5 284.3 V334.7 M1304.5 300.8 V334.7 M1305.5 300.8 V334.7 M1306.5 300.8 V351.1 M1307.5 300.8 V351.1 M1308.5 300.8 V351.1 M1309.5 300.8 V367.6 M1310.5 300.8 V334.7 M1311.5 300.8 V351.1 M1312.5 317.2 V351.1 M1313.5 317.2 V351.1 M1314.5 300.8 V351.1 M1315.5 317.2 V351.1 M1316.5 284.3 V351.1 M1317.5 317.2 V351.1 M1318.5 317.2 V367.6 M1319.5 317.2 V351.1 M1320.5 317.2 V367.6 M1321.5 333.7 V367.6 M1322.5 317.2 V367.6 M1323.5 317.2 V367.6 M1324.5 317.2 V367.6 M1325.5 333.7 V367.6 M1326.5 333.7 V367.6 M1327.5 333.7 V367.6 M1328.5 333.7 V367.6 M1329.5 333.7 V367.6 M1330.5 333.7 V384.0 M1331.5 333.7 V384.0 M1332.5 333.7 V384.0 M1333.5 350.1 V384.0 M1334.5 350.1 V384.0 M1335.5 350.1 V400.5 M1336.5 350.1 V400.5 M1337.5 350.1 V400.5 M1338.5 350.1 V400.5 M1339.5 350.1 V400.5 M1340.5 350.1 V400.5 M1341.5 350.1 V416.9 M1342.5 350.1 V400.5 M1343.5 350.1 V400.5 M1344.5 366.6 V400.5 M1345.5 366.6 V400.5 M1346.5 366.6 V416.9 M1347.5 366.6 V400.5 M1348.5 366.6 V416.9 M1349.5 366.6 V416.9 M1350.5 366.6 V416.9 M1351.5 383.0 V416.9 M1352.5 383.0 V433.4 M1353.5 383.0 V416.9 M1354.5 383.0 V433.4 M1355.5 383.0 V433.4 M1356.5 383.0 V433.4 M1357.5 383.0 V433.4 M1358.5 383.0 V433.4 M1359.5 399.5 V433.4 M1360.5 399.5 V433.4 M1361.5 399.5 V433.4 M1362.5 399.5 V449.8 M1363.5 399.5 V433.4 M1364.5 383.0 V449.8 M1365.5 399.5 V449.8 M1366.5 399.5 V449.8 M1367.5 399.5 V449.8 M1368.5 415.9 V466.3 M1369.5 415.9 V466.3 M1370.5 415.9 V482.7 M1371.5 415.9 V466.3 M1372.5 415.9 V466.3 M1373.5 415.9 V466.3 M1374.5 415.9 V466.3 M1375.5 415.9 V466.3 M1376.5 399.5 V466.3 M1377.5 432.4 V466.3 M1378.5 432.4 V466.3 M1379.5 432.4 V482.7"/>
<path stroke="#00ff00" stroke-width="1.6" d="M1159.5 278.5 V241.5 M1161.5 278.5 V241.5 M1163.5 278.5 V241.5 M1193.5 278.5 V241.5 M1224.5 278.5 V241.5 M1186.5 278.5 V406.0 M1180.5 278.5 V333.8 M1312.5 326.4 V241.5 M1312.5 326.4 V366.3 M1320.5 337.6 V268.2 M1325.5 344.6 V316.8 M1331.5 356.9 V316.8 M1331.5 356.9 V406.0 M1363.5 420.7 V364.6 M1380.5 453.2 V397.0"/>
<path stroke="#ff0000" stroke-width="1" d="M1157.5 274.3 V293.3 M1158.5 273.8 V289.3 M1159.5 272.9 V287.1 M1160.5 276.5 V293.9 M1161.5 275.2 V295.3 M1162.5 270.5 V288.6 M1163.5 271.4 V288.3 M1164.5 272.4 V289.4 M1165.5 272.1 V292.3 M1166.5 271.3 V287.1 M1167.5 268.1 V284.3 M1168.5 267.3 V288.9 M1169.5 269.1 V286.6 M1170.5 268.8 V286.0 M1171.5 270.1 V284.9 M1172.5 273.4 V290.2 M1173.5 276.1 V293.2 M1174.5 273.9 V293.5 M1175.5 277.2 V292.4 M1176.5 276.8 V289.5 M1177.5 269.8 V286.3 M1178.5 266.5 V287.7 M1179.5 266.2 V289.4 M1180.5 271.1 V287.0 M1181.5 269.2 V285.8 M1182.5 268.0 V282.0 M1183.5 267.1 V284.8 M1184.5 267.5 V285.0 M1185.5 267.5 V285.8 M1186.5 266.7 V285.9 M1187.5 263.5 V281.1 M1188.5 264.4 V276.8 M1189.5 263.4 V278.6 M1190.5 268.0 V282.3 M1191.5 260.7 V280.3 M1192.5 259.7 V285.2 M1193.5 264.5 V287.1 M1194.5 269.2 V287.5 M1195.5 273.3 V286.8 M1196.5 270.7 V289.6 M1197.5 270.5 V290.8 M1198.5 269.5 V284.1 M1199.5 270.2 V285.8 M1200.5 269.6 V284.4 M1201.5 269.9 V282.1 M1202.5 269.4 V285.1 M1203.5 262.5 V282.7 M1204.5 269.5 V281.6 M1205.5 266.1 V283.1 M1206.5 268.6 V281.6 M1207.5 266.8 V286.8 M1208.5 262.0 V285.5 M1209.5 270.2 V286.9 M1210.5 269.8 V289.1 M1211.5 272.1 V293.7 M1212.5 278.5 V293.4 M1213.5 279.2 V295.0 M1214.5 275.5 V293.4 M1215.5 272.7 V293.9 M1216.5 270.4 V286.5 M1217.5 270.5 V291.3 M1218.5 264.7 V288.6 M1219.5 267.2 V285.4 M1220.5 267.8 V281.4 M1221.5 269.6 V286.7 M1222.5 265.1 V282.8 M1223.5 271.9 V284.2 M1224.5 268.2 V283.6 M1225.5 272.9 V285.0 M1226.5 268.8 V293.0 M1227.5 270.6 V286.4 M1228.5 272.9 V292.9 M1229.5 275.1 V288.6 M1230.5 268.9 V285.7 M1231.5 266.5 V284.7 M1232.5 268.5 V285.0 M1233.5 262.5 V287.5 M1234.5 268.2 V281.9 M1235.5 267.3 V284.9 M1236.5 265.5 V283.8 M1237.5 268.3 V281.9 M1238.5 268.6 V283.4 M1239.5 269.7 V290.2 M1240.5 268.6 V285.6 M1241.5 268.9 V286.7 M1242.5 272.5 V287.0 M1243.5 269.0 V287.5 M1244.5 270.4 V287.2 M1245.5 268.9 V287.7 M1246.5 267.1 V285.7 M1247.5 275.2 V288.9 M1248.5 273.8 V290.0 M1249.5 268.5 V292.0 M1250.5 271.1 V285.5 M1251.5 271.0 V293.6 M1252.5 275.4 V286.5 M1253.5 270.8 V291.0 M1254.5 275.4 V300.0 M1255.5 278.3 V291.1 M1256.5 276.8 V293.6 M1257.5 272.2 V291.2 M1258.5 273.6 V289.4 M1259.5 274.3 V290.6 M1260.5 270.5 V294.4 M1261.5 274.3 V291.9 M1262.5 270.3 V284.4 M1263.5 269.9 V283.7 M1264.5 267.3 V280.8 M1265.5 269.8 V283.0 M1266.5 268.0 V284.6 M1267.5 271.5 V288.0 M1268.5 272.3 V285.0 M1269.5 267.3 V285.5 M1270.5 271.7 V286.6 M1271.5 268.3 V283.2 M1272.5 272.0 V283.7 M1273.5 273.7 V288.6 M1274.5 273.2 V285.3 M1275.5 272.7 V290.0 M1276.5 270.6 V293.1 M1277.5 270.9 V286.7 M1278.5 270.1 V285.5 M1279.5 268.8 V284.0 M1280.5 265.5 V283.9 M1281.5 262.1 V285.3 M1282.5 270.6 V294.1 M1283.5 275.0 V291.7 M1284.5 273.5 V291.7 M1285.5 274.0 V290.9 M1286.5 275.2 V294.1 M1287.5 278.7 V299.5 M1288.5 280.6 V300.2 M1289.5 281.8 V299.6 M1290.5 280.8 V299.3 M1291.5 283.6 V306.0 M1292.5 288.4 V304.9 M1293.5 287.6 V311.2 M1294.5 284.8 V310.6 M1295.5 285.3 V307.9 M1296.5 293.6 V311.9 M1297.5 297.3 V316.2 M1298.5 297.6 V317.5 M1299.5 297.0 V317.8 M1300.5 300.5 V316.5 M1301.5 298.0 V313.1 M1302.5 305.1 V321.0 M1303.5 304.7 V321.5 M1304.5 309.9 V325.1 M1305.5 310.7 V330.3 M1306.5 309.4 V324.2 M1307.5 307.3 V325.7 M1308.5 311.3 V327.5 M1309.5 318.1 V334.6 M1310.5 316.4 V329.3 M1311.5 312.0 V335.3 M1312.5 316.5 V332.9 M1313.5 319.7 V339.4 M1314.5 324.8 V339.3 M1315.5 325.1 V338.6 M1316.5 325.4 V341.9 M1317.5 325.9 V344.4 M1318.5 324.4 V347.9 M1319.5 326.6 V343.8 M1320.5 326.8 V342.8 M1321.5 324.4 V347.8 M1322.5 332.4 V346.3 M1323.5 332.4 V348.7 M1324.5 335.4 V353.3 M1325.5 333.3 V353.3 M1326.5 340.3 V363.7 M1327.5 342.3 V360.1 M1328.5 346.5 V369.1 M1329.5 343.2 V362.3 M1330.5 341.0 V364.0 M1331.5 347.8 V365.5 M1332.5 349.4 V366.0 M1333.5 351.6 V369.8 M1334.5 349.8 V371.1 M1335.5 360.3 V378.4 M1336.5 362.7 V379.5 M1337.5 360.8 V376.0 M1338.5 364.2 V381.5 M1339.5 359.4 V381.4 M1340.5 363.4 V382.5 M1341.5 368.5 V384.7 M1342.5 366.3 V389.8 M1343.5 371.4 V388.6 M1344.5 368.8 V392.2 M1345.5 374.9 V397.5 M1346.5 380.7 V396.4 M1347.5 376.0 V397.6 M1348.5 376.5 V395.1 M1349.5 378.2 V399.6 M1350.5 378.9 V399.4 M1351.5 386.5 V403.7 M1352.5 386.0 V409.5 M1353.5 389.1 V417.1 M1354.5 385.7 V410.8 M1355.5 397.8 V413.4 M1356.5 400.4 V416.5 M1357.5 402.6 V417.7 M1358.5 404.6 V423.9 M1359.5 403.7 V422.1 M1360.5 404.2 V422.3 M1361.5 406.9 V425.0 M1362.5 413.0 V427.2 M1363.5 408.3 V428.6 M1364.5 412.2 V434.3 M1365.5 413.0 V431.3 M1366.5 416.1 V432.0 M1367.5 416.4 V441.5 M1368.5 416.1 V435.5 M1369.5 423.9 V442.6 M1370.5 425.5 V441.9 M1371.5 423.8 V441.5 M1372.5 424.5 V444.7 M1373.5 430.2 V444.0 M1374.5 430.7 V446.9 M1375.5 427.5 V443.7 M1376.5 426.1 V446.3 M1377.5 432.0 V451.5 M1378.5 434.1 V452.2 M1379.5 439.9 V454.9 M1186.5 278.5 V301.4"/>
</g>
<g stroke="#262626" stroke-width="2.6" fill="none">
<rect x="1157.3" y="241.5" width="222.5" height="164.5"/>
<path d="M1370.3 241.5 v3"/>
</g>
<g fill="#262626" stroke="#262626" stroke-width="0.5" font-size="40.2" letter-spacing="0.5">
<text x="1140.7" y="254.6" text-anchor="end">0.168</text>
<text x="1140.7" y="420.7" text-anchor="end">0.162</text>
<text x="1155.6" y="460.6" text-anchor="middle">2500</text>
<text x="1368" y="460.6" text-anchor="middle">5500</text>
</g>
<path d="M752.1 107.2 L728.2 152.5" stroke="#000" stroke-width="2.1" fill="none"/><path d="M715.2 177.3 L720.5 135.6 L728.2 152.5 L746.6 149.3 Z" fill="#000"/>
<path d="M616.9 378.2 L665.7 297.7" stroke="#000" stroke-width="2.1" fill="none"/><path d="M680.2 273.8 L671.3 317.5 L665.7 297.7 L645.6 301.9 Z" fill="#000"/>
<circle cx="711.95" cy="179.7" r="6" fill="#000"/>
<circle cx="681.7" cy="269.0" r="6" fill="#000"/>
<g fill="#000" stroke="#000" stroke-width="0.8" font-size="41.67">
<text x="699.0" y="94.3"><tspan font-style="italic">n</tspan><tspan x="723.4" dy="19.3" font-size="31">1</tspan><tspan x="739.2" dy="-19.3">=4106</tspan></text>
<text x="522.1" y="411.5"><tspan font-style="italic">n</tspan><tspan x="545" dy="19.9" font-size="31">2</tspan><tspan x="562.2" dy="-19.9">=3984</tspan></text>
</g>
</svg></body></html>
